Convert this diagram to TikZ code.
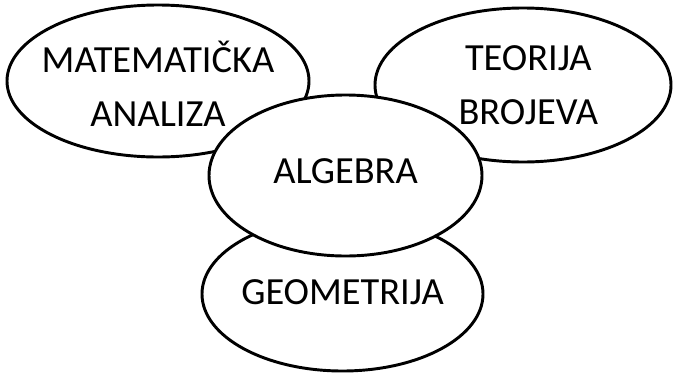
\documentclass[tikz,border=0pt]{standalone}
\usepackage{fontspec}
\setmainfont{Carlito}
\usetikzlibrary{shapes.geometric}

\begin{document}
\begin{tikzpicture}[x=0.75pt,y=-0.75pt,
  oval/.style={ellipse,draw=black,line width=2.2pt,fill=white,inner sep=0pt},
  lbl/.style={align=center,inner sep=0pt,font=\fontsize{28.8}{40.5}\selectfont}]
\useasboundingbox (0,0) rectangle (674,372);
\node[oval,minimum width=210.75pt,minimum height=115.5pt,
  label={[lbl,yshift=1.5pt]center:GEOMETRIJA}] (geo) at (342.5,294) {};
\node[oval,minimum width=226.5pt,minimum height=114pt,
  label={[lbl,yshift=-2pt]center:MATEMATIČKA\\ANALIZA}] (mat) at (158,81) {};
\node[oval,minimum width=222pt,minimum height=115.5pt,
  label={[lbl,xshift=4pt]center:TEORIJA\\BROJEVA}] (teo) at (523,85) {};
\node[oval,minimum width=204.75pt,minimum height=120.75pt,
  label={[lbl,yshift=3.5pt]center:ALGEBRA}] (alg) at (345.5,175.5) {};
\end{tikzpicture}
\end{document}
